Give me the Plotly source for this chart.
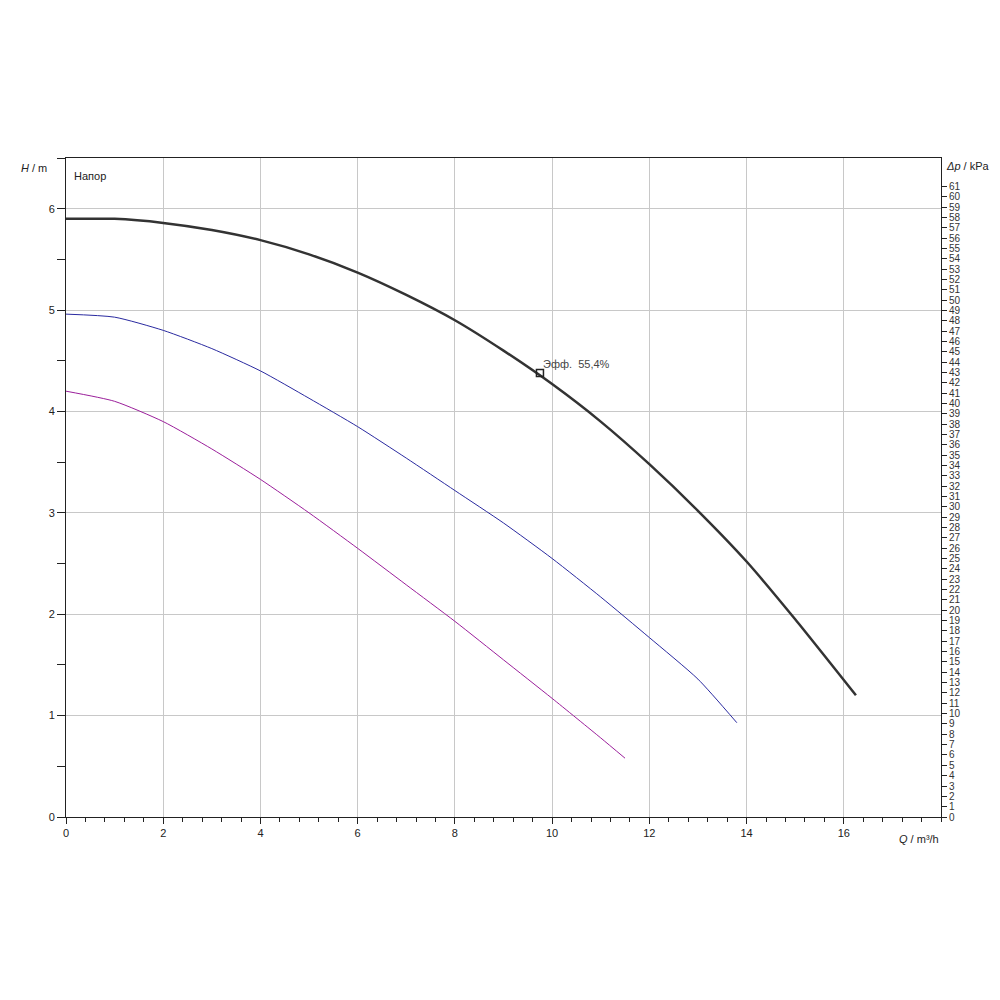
import plotly.graph_objects as go

# pump curves, Q in m3/h, H in m
q_max = [0, 1, 2, 3, 4, 5, 6, 7, 8, 9, 10, 11, 12, 13, 14, 15, 16.25]
h_max = [5.9, 5.9, 5.86, 5.79, 5.69, 5.55, 5.37, 5.15, 4.9, 4.6, 4.27, 3.9, 3.48, 3.02, 2.52, 1.95, 1.2]
q_mid = [0, 1, 2, 3, 4, 5, 6, 7, 8, 9, 10, 11, 12, 13, 13.8]
h_mid = [4.96, 4.93, 4.8, 4.62, 4.4, 4.13, 3.85, 3.54, 3.22, 2.9, 2.55, 2.17, 1.77, 1.36, 0.93]
q_min = [0, 1, 2, 3, 4, 5, 6, 7, 8, 9, 10, 11, 11.5]
h_min = [4.2, 4.1, 3.9, 3.63, 3.33, 3.0, 2.65, 2.29, 1.93, 1.55, 1.17, 0.78, 0.58]
eff_q = [9.75]
eff_h = [4.38]
eff_label = "Эфф.  55,4%"
x_ticks = [0, 2, 4, 6, 8, 10, 12, 14, 16]
kpa_ticks = list(range(0, 62))

H_TOP = 6.5
X_TOP = 18
font = dict(family="Liberation Sans, Arial", size=11, color="#222")

fig = go.Figure()
fig.add_trace(go.Scatter(x=q_min, y=h_min, mode="lines", line=dict(color="#9b1f9b", width=1, shape="spline", smoothing=0.6)))
fig.add_trace(go.Scatter(x=q_mid, y=h_mid, mode="lines", line=dict(color="#2a2aa0", width=1, shape="spline", smoothing=0.6)))
fig.add_trace(go.Scatter(x=q_max, y=h_max, mode="lines", line=dict(color="#333", width=2.5, shape="spline", smoothing=0.6)))
fig.add_trace(go.Scatter(x=eff_q, y=eff_h, mode="markers",
                         marker=dict(symbol="square-open", size=7, color="#222", line=dict(width=1.5))))
fig.add_annotation(x=eff_q[0], y=eff_h[0], text=eff_label, showarrow=False, xanchor="left",
                   yanchor="bottom", xshift=1, yshift=1, font=dict(family=font["family"], size=11, color="#444"))
# dummy trace for right axis
fig.add_trace(go.Scatter(x=[None], y=[None], yaxis="y2"))

fig.update_layout(
    width=1000, height=1000, showlegend=False,
    paper_bgcolor="white", plot_bgcolor="white",
    margin=dict(l=58, r=67, t=150, b=191),
    font=font,
    xaxis=dict(range=[0, X_TOP], tickvals=x_ticks, showgrid=True, gridcolor="#c8c8c8", gridwidth=1,
               zeroline=False, showline=True, linecolor="#222", mirror=True,
               ticks="outside", ticklen=6, tickcolor="#222",
               minor=dict(dtick=0.4, ticks="outside", ticklen=4, tickcolor="#222")),
    yaxis=dict(range=[0, H_TOP], dtick=1, showgrid=True, gridcolor="#c8c8c8", gridwidth=1,
               zeroline=False, showline=True, linecolor="#222", mirror=True,
               ticks="outside", ticklen=8, tickcolor="#222",
               minor=dict(dtick=0.5, ticks="outside", ticklen=8, tickcolor="#222")),
    yaxis2=dict(range=[0, H_TOP * 9.81], tickvals=kpa_ticks, overlaying="y", side="right", showgrid=False,
                zeroline=False, ticks="outside", ticklen=5, tickcolor="#222",
                tickfont=dict(size=10, color="#333")),
)
fig.add_annotation(xref="paper", yref="y", x=-0.02, y=6.4, text="<i>H</i> / m", showarrow=False,
                   xanchor="right", font=dict(size=11))
fig.add_annotation(xref="paper", yref="paper", x=0, y=6.4 / H_TOP, text="Напор", showarrow=False,
                   xanchor="left", xshift=6, font=dict(size=11))
fig.add_annotation(xref="paper", yref="y", x=1.0, y=6.42, text="<i>Δp</i> / kPa", showarrow=False,
                   xanchor="left", xshift=3, bgcolor="white", font=dict(size=11))
fig.add_annotation(xref="paper", yref="paper", x=1.0, y=0, text="<i>Q</i> / m³/h", showarrow=False,
                   xanchor="right", yanchor="top", yshift=-14, font=dict(size=11))

fig.write_html("out.html")
